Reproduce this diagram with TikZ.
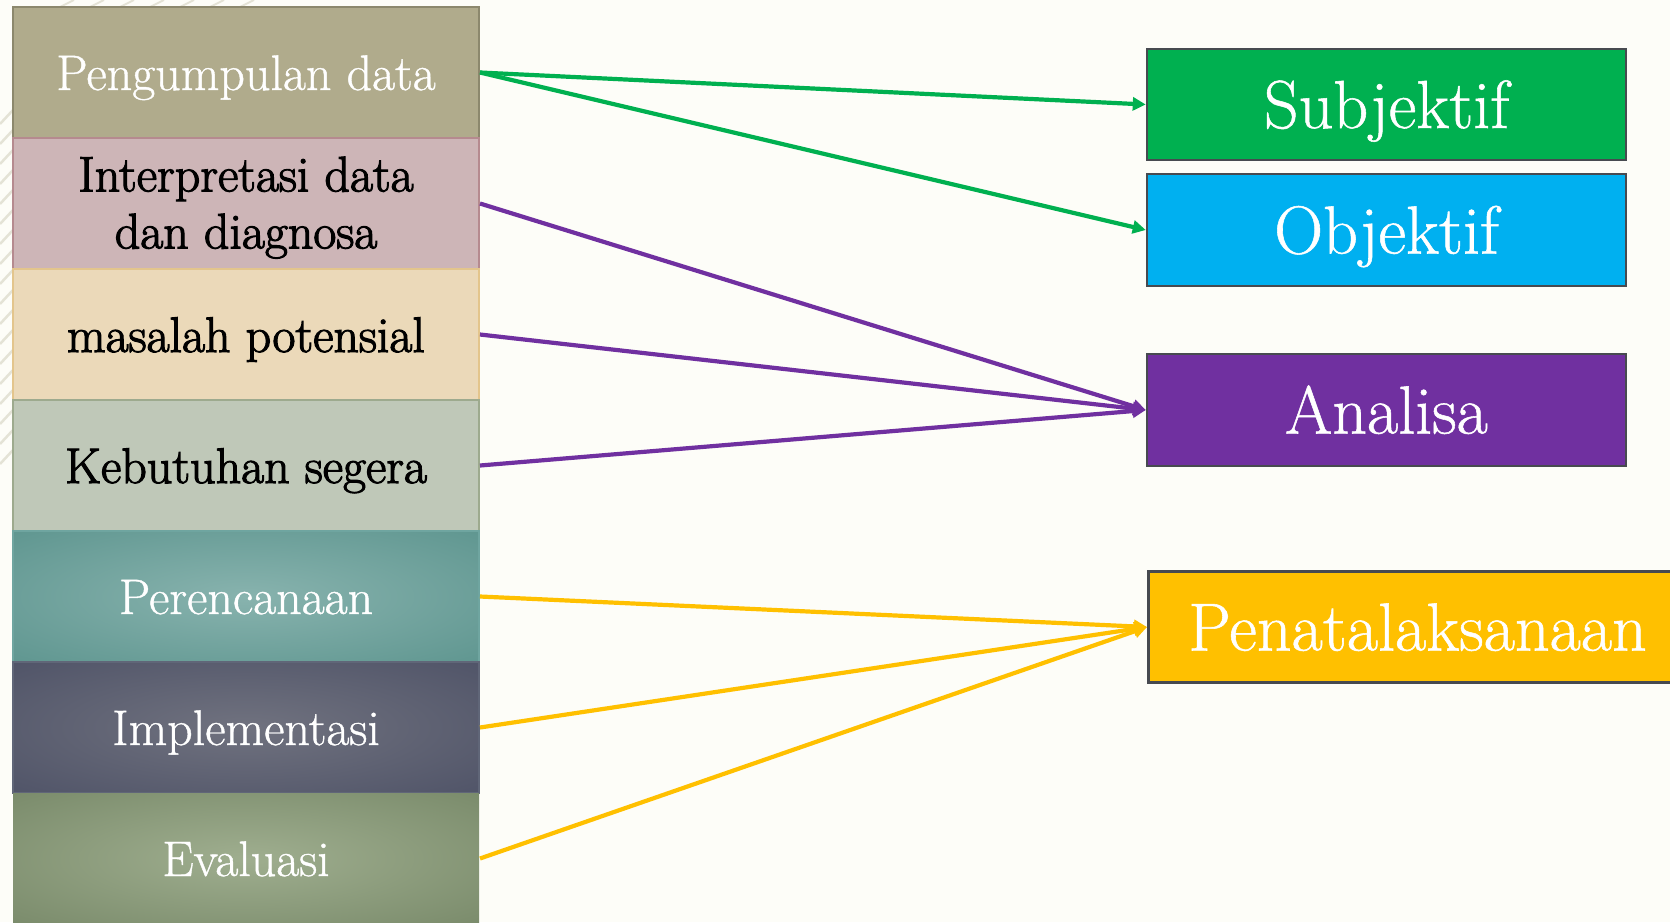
\documentclass[tikz,border=0pt]{standalone}
\usepackage{fontspec}
\usetikzlibrary{arrows.meta}
\newfontfamily\demifont{Latin Modern Roman}[FakeBold=2.2]
\newfontfamily\lightbold{Latin Modern Roman}[FakeBold=0.8]
\definecolor{bgc}{HTML}{FDFDF8}
\definecolor{leaf}{HTML}{E4E3D6}
\definecolor{cA}{HTML}{B0AB8C}\definecolor{cAb}{HTML}{8C886D}
\definecolor{cB}{HTML}{CDB5B7}\definecolor{cBb}{HTML}{B58A8F}
\definecolor{cC}{HTML}{EBD9B9}\definecolor{cCb}{HTML}{E3C58C}
\definecolor{cD}{HTML}{BFC8B8}\definecolor{cDb}{HTML}{9DAA8E}
\definecolor{cEi}{HTML}{88B3AE}\definecolor{cEo}{HTML}{5F9690}\definecolor{cEb}{HTML}{6FA5A0}
\definecolor{cFi}{HTML}{70727F}\definecolor{cFo}{HTML}{505468}\definecolor{cFb}{HTML}{606678}
\definecolor{cGi}{HTML}{9FAE8F}\definecolor{cGo}{HTML}{7A8B6B}
\definecolor{gS}{HTML}{00B050}
\definecolor{gO}{HTML}{00B0F0}
\definecolor{gA}{HTML}{7030A0}
\definecolor{gP}{HTML}{FFC000}
\definecolor{rb}{HTML}{474A50}
\pgfdeclareradialshading{shE}{\pgfpoint{0bp}{0bp}}{color(0bp)=(cEi); color(36bp)=(cEo); color(50bp)=(cEo)}
\pgfdeclareradialshading{shF}{\pgfpoint{0bp}{0bp}}{color(0bp)=(cFi); color(36bp)=(cFo); color(50bp)=(cFo)}
\pgfdeclareradialshading{shG}{\pgfpoint{0bp}{0bp}}{color(0bp)=(cGi); color(36bp)=(cGo); color(50bp)=(cGo)}
\tikzset{
  lbox/.style={rectangle, minimum width=466pt, minimum height=131pt, inner sep=0pt, line width=2pt, align=center, font=\fontsize{50}{57}\selectfont},
  lone/.style={lbox, text height=35pt, text depth=0pt},
  rbox/.style={rectangle, minimum width=479pt, minimum height=111pt, inner sep=0pt, draw=rb, line width=2.5pt, text=white, font=\fontsize{68}{74}\lightbold, text height=47pt, text depth=0pt},
  conn/.style={line width=4.2pt, -{Triangle[length=13pt,width=13pt]}},
}
\begin{document}
\begin{tikzpicture}[x=1pt,y=-1pt]
\fill[bgc] (0,0) rectangle (1670,922);
\useasboundingbox (0,0) rectangle (1670,922);
% faint leaf strokes at left edge
\foreach \yy in {110,130,150,170,190,210,230,250,270,290,310,330,350,370,390,410,430,450}
  \draw[leaf, line width=2.5pt] (0,\yy+14) -- (13,\yy);
\foreach \xx in {60,90,120,150,180,210,240}
  \draw[leaf, line width=2pt] (\xx,7) -- (\xx+14,0);
% left boxes
\node[lone, fill=cA, draw=cAb, text=white] (b1) at (246,72.5) {\lightbold Pengumpulan data};
\node[lbox, fill=cB, draw=cBb, text=black] (b2) at (246,203.5) {\demifont\rule{0pt}{43pt}Interpretasi data\\\demifont dan diagnosa};
\node[lone, fill=cC, draw=cCb, text=black] (b3) at (246,334.5) {\demifont masalah potensial};
\node[lone, fill=cD, draw=cDb, text=black] (b4) at (246,465.5) {\demifont Kebutuhan segera};
\node[lone, shading=shE, draw=cEb, text=white] (b5) at (246,596.5) {\lightbold Perencanaan};
\node[lone, shading=shF, draw=cFb, text=white] (b6) at (246,727.5) {\lightbold Implementasi};
\node[lone, shading=shG, text=white] (b7) at (246,858.5) {\lightbold Evaluasi};
% right boxes
\node[rbox, fill=gS] (s) at (1386.5,104.5) {Subjektif};
\node[rbox, fill=gO, minimum height=112pt] (o) at (1386.5,230) {Objektif};
\node[rbox, fill=gA, minimum height=112pt] (a) at (1386.5,410) {Analisa};
\node[rbox, fill=gP, anchor=west, text width=493pt, align=left, inner xsep=40pt, minimum width=573pt] (p) at (1147,627) {Penatalaksanaan};
% connectors
\draw[conn, gS] (b1.east) -- (s.west);
\draw[conn, gS] (b1.east) -- (o.west);
\draw[conn, gA] (b2.east) -- (a.west);
\draw[conn, gA] (b3.east) -- (a.west);
\draw[conn, gA] (b4.east) -- (a.west);
\draw[conn, gP] (b5.east) -- (p.west);
\draw[conn, gP] (b6.east) -- (p.west);
\draw[conn, gP] (b7.east) -- (p.west);
\end{tikzpicture}
\end{document}
